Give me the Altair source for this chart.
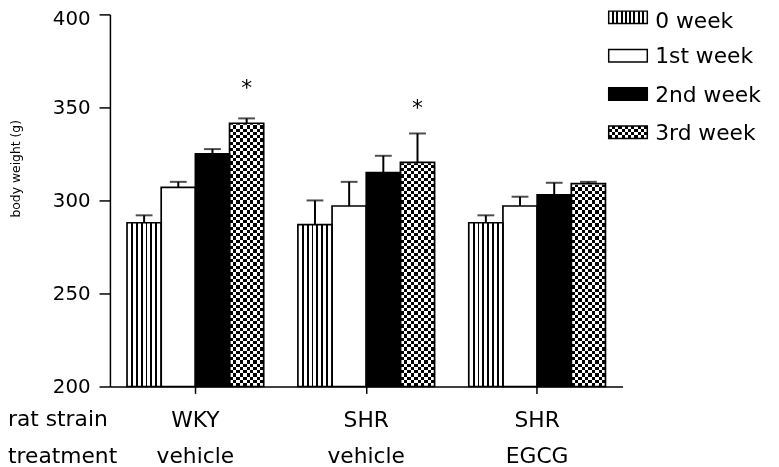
import altair as alt
import pandas as pd

# ---------------- data ----------------
strains = ["WKY", "SHR", "SHR"]
treatments = ["vehicle", "vehicle", "EGCG"]
weeks = ["0 week", "1st week", "2nd week", "3rd week"]
wky_mean = [288, 307, 325, 341.5]
wky_sem = [4, 3, 2.6, 2.6]
shr_veh_mean = [287, 297, 315, 320.5]
shr_veh_sem = [13, 13, 9, 15.5]
shr_egcg_mean = [288, 297, 303, 309]
shr_egcg_sem = [4, 5, 6.5, 1]
wky_sig = ["", "", "", "*"]
shr_veh_sig = ["", "", "", "*"]
shr_egcg_sig = ["", "", "", ""]
# height (g) at which each significance star is printed
wky_star_at = [0, 0, 0, 361]
shr_veh_star_at = [0, 0, 0, 350]
shr_egcg_star_at = [0, 0, 0, 0]
y_ticks = [200, 250, 300, 350, 400]
row_labels = ["rat strain", "treatment"]
y_title = "body weight (g)"

groups = [f"{s}|{t}" for s, t in zip(strains, treatments)]
means = [wky_mean, shr_veh_mean, shr_egcg_mean]
sems = [wky_sem, shr_veh_sem, shr_egcg_sem]
sigs = [wky_sig, shr_veh_sig, shr_egcg_sig]
stars = [wky_star_at, shr_veh_star_at, shr_egcg_star_at]
rows = []
for g, m, e, s, st in zip(groups, means, sems, sigs, stars):
    for w, mv, ev, sv, sa in zip(weeks, m, e, s, st):
        rows.append({"g": g, "week": w, "mean": mv, "upper": mv + ev, "sig": sv, "star": sa})
df = pd.DataFrame(rows)

FONT = "DejaVu Sans"
CLEAR = "rgba(255,255,255,0)"
YMIN, YMAX = y_ticks[0], y_ticks[-1]


# ---------------- pattern helpers (gradients) ----------------
def stop(o, c):
    return alt.GradientStop(offset=round(min(max(o, 0), 1), 5), color=c)


def line_stripes(n, w):
    stops = [stop(0, "white")]
    for k in range(1, n):
        c = k / n
        stops += [stop(c - w / 2, "white"), stop(c - w / 2, "black"),
                  stop(c + w / 2, "black"), stop(c + w / 2, "white")]
    stops.append(stop(1, "white"))
    return alt.LinearGradient(gradient="linear", stops=stops, x1=0, x2=1, y1=0, y2=0)


def bands(n, c1, c2, along_x):
    stops = []
    for j in range(n):
        c = c1 if j % 2 == 0 else c2
        stops += [stop(j / n, c), stop((j + 1) / n, c)]
    if along_x:
        return alt.LinearGradient(gradient="linear", stops=stops, x1=0, x2=1, y1=0, y2=0)
    return alt.LinearGradient(gradient="linear", stops=stops, x1=0, x2=0, y1=0, y2=1)


# ---------------- scales & axes ----------------
yscale = alt.Scale(domain=[YMIN, YMAX], zero=False, nice=False)
xaxis = alt.Axis(
    title=None, labelExpr="split(datum.label, '|')", labelFont=FONT, labelFontSize=22,
    labelColor="black", labelBaseline="alphabetic", labelPadding=33, labelLineHeight=37,
    labelAngle=0, tickSize=7, tickWidth=1.5, tickColor="black", domainColor="black",
    domainWidth=1.5, bandPosition=0.5, zindex=2, grid=False,
)
yaxis = alt.Axis(
    values=y_ticks, title=None, labelFont=FONT, labelFontSize=20,
    labelColor="black", labelPadding=9, tickSize=11, tickWidth=1.5, tickColor="black",
    domainColor="black", domainWidth=1.5, grid=False, zindex=2,
    labelOffset={"condition": {"test": f"datum.value == {YMAX}", "value": 4}, "value": 0},
)

X = alt.X("g:N", scale=alt.Scale(domain=groups, paddingInner=0.2, paddingOuter=0.1), axis=xaxis)
XO = alt.XOffset("week:N", scale=alt.Scale(domain=weeks, paddingInner=0, paddingOuter=0))
base = (
    alt.Chart(df)
    .transform_calculate(lo=f"{YMIN}", hi=f"{YMAX}")
    .encode(x=X, xOffset=XO)
)
Ymean = alt.Y("mean:Q", scale=yscale, axis=yaxis)
Yhi = alt.Y("hi:Q", scale=yscale, axis=yaxis)
Y2lo = alt.Y2("lo:Q")

fills = [line_stripes(7, 0.055), "white", "black", bands(10, "black", "white", True)]

layers = []
for wk, f in zip(weeks, fills):
    layers.append(
        base.transform_filter(alt.datum.week == wk)
        .mark_bar(fill=f, strokeWidth=0)
        .encode(y=Ymean, y2=Y2lo)
    )

# checker overlay for 3rd week (XOR of columns and rows via difference blend)
layers.append(
    base.transform_filter(alt.datum.week == weeks[3])
    .mark_bar(fill=bands(114, "white", CLEAR, False), blend="difference", strokeWidth=0)
    .encode(y=Yhi, y2=Y2lo)
)
layers.append(
    base.transform_filter(alt.datum.week == weeks[3])
    .mark_bar(fill="white", stroke="white", strokeWidth=2)
    .encode(y=Yhi, y2=alt.Y2("mean:Q"))
)
# outlines
layers.append(
    base.mark_bar(fillOpacity=0, stroke="black", strokeWidth=1.7).encode(y=Ymean, y2=Y2lo)
)
# error bars (upper only)
layers.append(
    base.mark_rule(color="black", strokeWidth=2).encode(y=Ymean, y2=alt.Y2("upper:Q"))
)
layers.append(
    base.mark_tick(color="black", thickness=2, size=17, orient="horizontal")
    .encode(y=alt.Y("upper:Q", scale=yscale, axis=yaxis))
)
# significance stars
layers.append(
    base.transform_filter(alt.datum.sig != "")
    .mark_text(font=FONT, fontSize=22, baseline="alphabetic", dy=8, color="black")
    .encode(y=alt.Y("star:Q", scale=yscale, axis=yaxis), text="sig:N")
)

# y axis title
layers.append(
    alt.Chart(pd.DataFrame({"t": [y_title]}))
    .mark_text(font=FONT, fontSize=12.5, angle=270, align="center",
               baseline="middle", color="black")
    .encode(x=alt.value(-95), y=alt.value(156), text="t:N")
)

# row labels under the x axis
for i, lab in enumerate(row_labels):
    layers.append(
        alt.Chart(pd.DataFrame({"t": [lab]}))
        .mark_text(font=FONT, fontSize=22, align="left", baseline="alphabetic", color="black")
        .encode(x=alt.value(-103), y=alt.value(416 + 37 * i), text="t:N")
    )

# legend
leg_fills = [line_stripes(9, 0.05), "white", "black", bands(12, "black", "white", True)]
for i, (wk, f) in enumerate(zip(weeks, leg_fills)):
    yc = 3.0 + i * 38.7
    d = pd.DataFrame({"week": [wk]})
    pos = dict(x=alt.value(504), x2=alt.value(543), y=alt.value(yc - 6.3), y2=alt.value(yc + 6.3))
    layers.append(alt.Chart(d).mark_rect(fill=f, strokeWidth=0).encode(**pos))
    if i == 3:
        layers.append(
            alt.Chart(d).mark_rect(fill=bands(4, "white", CLEAR, False), blend="difference",
                                   strokeWidth=0).encode(**pos)
        )
    layers.append(
        alt.Chart(d).mark_rect(fillOpacity=0, stroke="black", strokeWidth=1.5).encode(**pos)
    )
    layers.append(
        alt.Chart(d).mark_text(font=FONT, fontSize=22, align="left", baseline="alphabetic",
                               color="black")
        .encode(x=alt.value(551), y=alt.value(max(yc + 7.8, 13.5)), text="week:N")
    )

chart = (
    alt.layer(*layers)
    .properties(
        width=518, height=376,
        padding={"left": 103, "top": 4, "right": 150, "bottom": 90},
        autosize=alt.AutoSizeParams(type="none"),
    )
    .configure(font=FONT)
    .configure_view(strokeWidth=0, stroke="transparent")
)

chart.save("out.html", embed_options={"renderer": "svg", "actions": False})
